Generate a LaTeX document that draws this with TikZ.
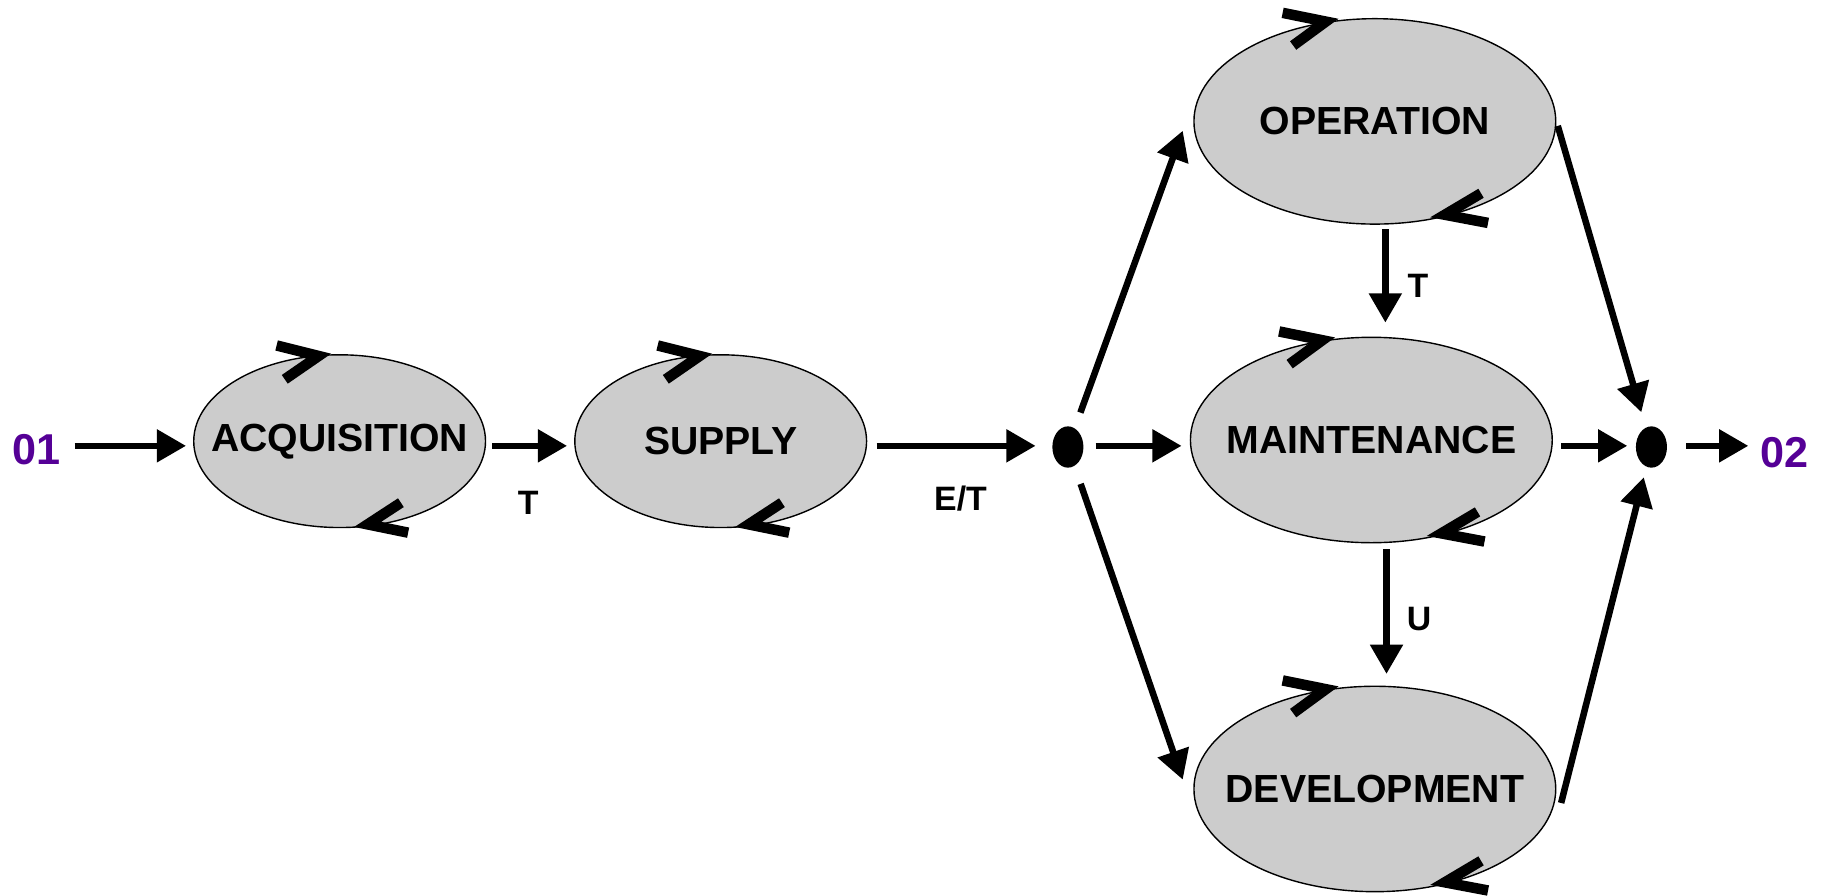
\documentclass[tikz,border=0pt]{standalone}
\usepackage{fontspec}
\setmainfont{Liberation Sans}
\usetikzlibrary{shapes.geometric, arrows.meta, calc}
\definecolor{procgray}{HTML}{CCCCCC}
\definecolor{termpurple}{RGB}{85,0,150}
\tikzset{
  proc/.style={ellipse, draw=black, line width=0.6pt, fill=procgray, inner sep=0pt,
    font=\fontsize{16.8}{20}\selectfont\bfseries},
  smallproc/.style={proc, minimum width=125pt, minimum height=74pt},
  bigproc/.style={proc, minimum width=155pt, minimum height=88pt},
  junction/.style={ellipse, fill=black, draw=none, minimum width=13.3pt, minimum height=17.7pt, inner sep=0pt},
  flow/.style={line width=2.8pt, -{Triangle[length=12.5pt,width=13.5pt]}},
  lab/.style={inner sep=0pt, font=\fontsize{14.5}{16}\selectfont\bfseries},
  term/.style={inner sep=0pt, text=termpurple, font=\fontsize{18.5}{20}\selectfont\bfseries},
  cyc/.style={line width=4.5pt, line join=miter, line cap=butt},
  smallloop/.pic={
    \draw[cyc] (-54,-82) -- (-18,-73) -- (-47,-53);
    \draw[cyc] (52.5,52.7) -- (24,71.3) -- (58.7,78.4);
  },
  bigloop/.pic={
    \draw[cyc] (-79,-93) -- (-42,-85.5) -- (-70,-65);
    \draw[cyc] (91,61.6) -- (60,80) -- (97,87);
  }
}
\begin{document}
\begin{tikzpicture}[x=0.5pt, y=-0.5pt]
\useasboundingbox (0,0) rectangle (1568,767);

% process ellipses
\node[smallproc] (acq) at (291,378) {\makebox[0pt]{ACQUISITION}};
\node[smallproc] (sup) at (617.5,378) {\makebox[0pt]{SUPPLY}};
\node[bigproc] (op) at (1178,104) {\makebox[0pt]{OPERATION}};
\node[bigproc] (mt) at (1175,377) {\makebox[0pt]{MAINTENANCE}};
\node[bigproc] (dev) at (1178,676) {\makebox[0pt]{DEVELOPMENT}};

% junctions and terminals
\node[junction] (j1) at (915,383) {};
\node[junction] (j2) at (1415,383) {};
\node[term] (i1) at (31,385) {01};
\node[term] (o2) at (1529,388) {02};
\coordinate (axis) at (0,382);

% cycle marks
\pic at (acq.center) {smallloop};
\pic at (sup.center) {smallloop};
\pic at (op.center) {bigloop};
\pic at (mt.center) {bigloop};
\pic at (dev.center) {bigloop};

% horizontal flows
\draw[flow, shorten <=6pt, shorten >=3pt] (i1.east |- axis) -- (acq.west |- axis);
\draw[flow, shorten <=2.5pt, shorten >=3pt] (acq.east |- axis) -- (sup.west |- axis);
\draw[flow, shorten <=4pt, shorten >=7pt] (sup.east |- axis) -- (j1.west |- axis);
\draw[flow, shorten <=5pt, shorten >=3.5pt] (j1.east |- axis) -- (mt.west |- axis);
\draw[flow, shorten <=3.5pt, shorten >=3.5pt] (mt.east |- axis) -- (j2.west |- axis);
\draw[flow, shorten <=8pt, shorten >=5pt] (j2.east |- axis) -- (o2.west |- axis);

% diagonal flows
\draw[flow, shorten <=7pt] (j1) -- ([shift={(-9,8)}]op.west);
\draw[flow, shorten <=8pt] (j1) -- ([shift={(-9,-8)}]dev.west);
\draw[flow, shorten <=2pt, shorten >=6.7pt] (op.east) -- (j2);
\draw[flow, shorten >=4.5pt] ([shift={(4,12)}]dev.east) -- (j2);

% vertical flows
\draw[flow, shorten <=2pt, shorten >=6pt] ([xshift=4.5pt]op.south) -- ([xshift=4.5pt]op.south |- mt.north);
\draw[flow, shorten <=2.5pt, shorten >=5pt] ([xshift=6.5pt]mt.south) -- ([xshift=6.5pt]mt.south |- dev.north);

% labels
\node[lab] (lt1) at (452.5,430.5) {T};
\node[lab] (let) at (823,427) {E/T};
\node[lab] (lt2) at (1215,245) {T};
\node[lab] (lu) at (1216,530) {U};
\end{tikzpicture}
\end{document}
